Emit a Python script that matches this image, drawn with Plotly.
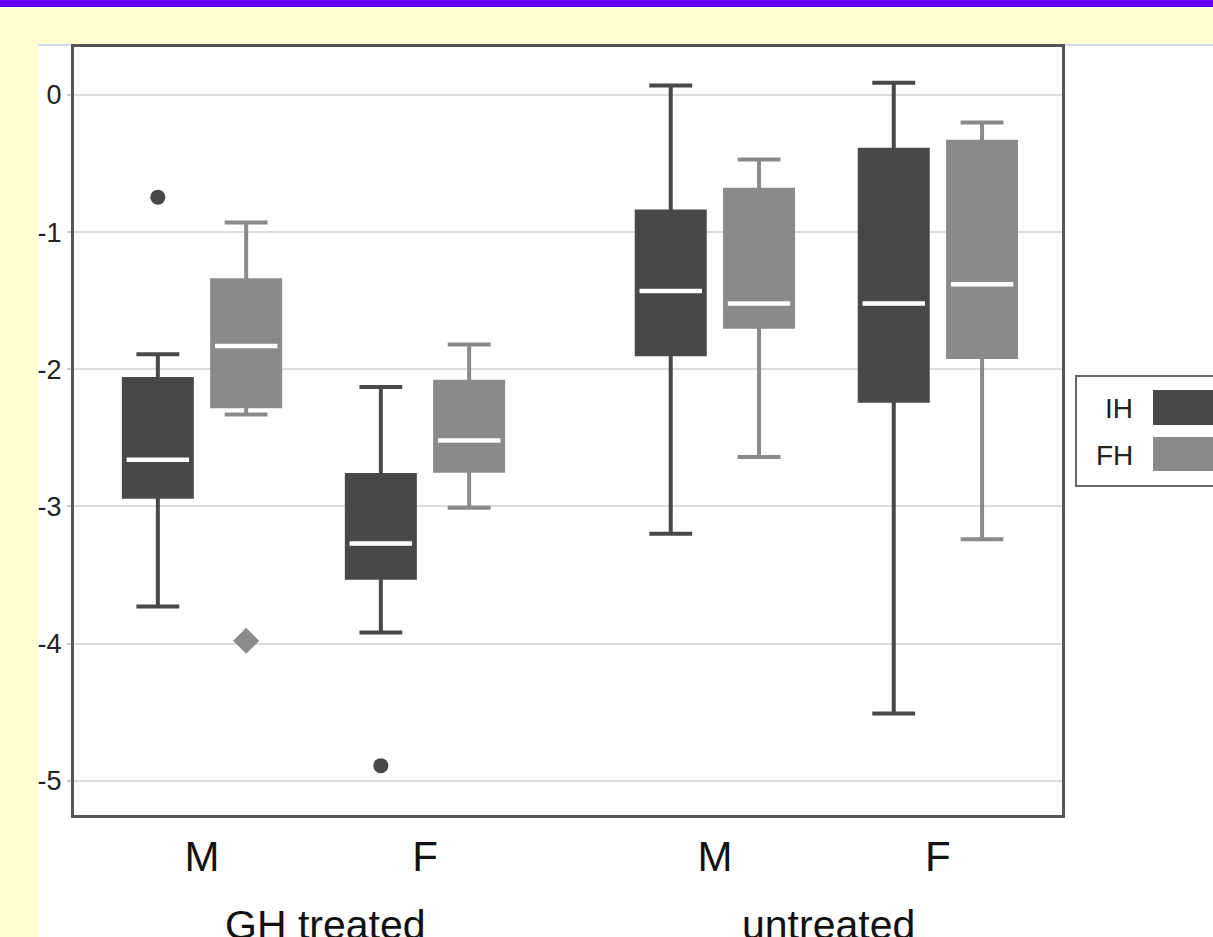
import plotly.graph_objects as go

# ---------------- data ----------------
categories = ["M", "F", "M", "F"]
groups = ["GH treated", "GH treated", "untreated", "untreated"]
series_names = ["IH", "FH"]

ih_upper = [-1.89, -2.13, 0.07, 0.09]
ih_q3 = [-2.07, -2.77, -0.85, -0.40]
ih_median = [-2.66, -3.27, -1.43, -1.52]
ih_q1 = [-2.93, -3.52, -1.89, -2.23]
ih_lower = [-3.73, -3.92, -3.20, -4.51]

fh_upper = [-0.93, -1.82, -0.47, -0.20]
fh_q3 = [-1.35, -2.09, -0.69, -0.34]
fh_median = [-1.83, -2.52, -1.52, -1.38]
fh_q1 = [-2.27, -2.74, -1.69, -1.91]
fh_lower = [-2.33, -3.01, -2.64, -3.24]

# outliers: (category index, value)
ih_outlier_cat = [0, 1]
ih_outlier_val = [-0.745, -4.89]
fh_outlier_cat = [0]
fh_outlier_val = [-3.98]

y_ticks = [0, -1, -2, -3, -4, -5]

# ---------------- styling / layout ----------------
DARK = "#484848"
GRAY = "#8a8a8a"
FONT = "Arial, Liberation Sans, sans-serif"

FIG_W, FIG_H = 1213, 937
L, R, T, B = 74, 1062, 47, 815


def px_x(px):
    return (px - L) / (R - L)


def px_y(py):
    return (B - py) / (B - T)


# category positions with extra gap between groups
group_order = []
for g in groups:
    if g not in group_order:
        group_order.append(g)
GROUP_GAP = 0.3
pos = [i + GROUP_GAP * group_order.index(g) for i, g in enumerate(groups)]
OFF = 0.198
BOXW = 0.305

ih_x = [p - OFF for p in pos]
fh_x = [p + OFF for p in pos]

fig = go.Figure()


def add_box(xs, q1, med, q3, lo, hi, color):
    fig.add_trace(go.Box(
        x=xs, q1=q1, median=med, q3=q3, lowerfence=lo, upperfence=hi,
        fillcolor=color, line=dict(color=color, width=4), width=BOXW,
        whiskerwidth=0.63, boxpoints=False, showlegend=False, hoverinfo="skip",
    ))
    # white median line overlay
    fig.add_trace(go.Box(
        x=xs, q1=med, median=med, q3=med, lowerfence=med, upperfence=med,
        fillcolor="white", line=dict(color="white", width=4.5), width=BOXW - 0.025,
        whiskerwidth=0, boxpoints=False, showlegend=False, hoverinfo="skip",
    ))


add_box(ih_x, ih_q1, ih_median, ih_q3, ih_lower, ih_upper, DARK)
add_box(fh_x, fh_q1, fh_median, fh_q3, fh_lower, fh_upper, GRAY)

fig.add_trace(go.Scatter(
    x=[ih_x[c] for c in ih_outlier_cat], y=ih_outlier_val, mode="markers",
    marker=dict(symbol="circle", size=15, color=DARK), showlegend=False,
))
fig.add_trace(go.Scatter(
    x=[fh_x[c] for c in fh_outlier_cat], y=fh_outlier_val, mode="markers",
    marker=dict(symbol="diamond", size=20, color=GRAY), showlegend=False,
))

unit = 223.0  # px per category unit
x0 = pos[0] - (202 - L) / unit
x1 = pos[0] + (R - 202) / unit

shapes = [
    # white panel
    dict(type="rect", xref="paper", yref="paper", x0=px_x(38), x1=px_x(1260),
         y0=px_y(1000), y1=px_y(45), fillcolor="white", line=dict(width=0), layer="below"),
    dict(type="line", xref="paper", yref="paper", x0=px_x(38), x1=px_x(1260),
         y0=px_y(45), y1=px_y(45), line=dict(color="#cddcf2", width=2), layer="below"),
    # purple band
    dict(type="rect", xref="paper", yref="paper", x0=px_x(-10), x1=px_x(1260),
         y0=px_y(7), y1=px_y(-10), fillcolor="#6600ff", line=dict(width=0), layer="below"),
    # legend box
    dict(type="rect", xref="paper", yref="paper", x0=px_x(1076), x1=px_x(1260),
         y0=px_y(486), y1=px_y(376), fillcolor="white", line=dict(color="#666666", width=2)),
    dict(type="rect", xref="paper", yref="paper", x0=px_x(1153), x1=px_x(1260),
         y0=px_y(425), y1=px_y(390), fillcolor=DARK, line=dict(width=0)),
    dict(type="rect", xref="paper", yref="paper", x0=px_x(1153), x1=px_x(1260),
         y0=px_y(471), y1=px_y(437), fillcolor=GRAY, line=dict(width=0)),
]

annotations = [
    dict(text=series_names[0], xref="paper", yref="paper", x=px_x(1135), y=px_y(408),
         xanchor="right", yanchor="middle", showarrow=False,
         font=dict(family=FONT, size=28, color="#222222")),
    dict(text=series_names[1], xref="paper", yref="paper", x=px_x(1135), y=px_y(455),
         xanchor="right", yanchor="middle", showarrow=False,
         font=dict(family=FONT, size=28, color="#222222")),
]
group_shift = [12, 2]
for gi, g in enumerate(group_order):
    ps = [p for p, gg in zip(pos, groups) if gg == g]
    annotations.append(dict(
        text=g, xref="x", yref="paper", x=sum(ps) / len(ps), y=px_y(925),
        xanchor="center", yanchor="middle", showarrow=False, xshift=group_shift[gi],
        font=dict(family=FONT, size=41, color="#111111")))

fig.update_layout(
    width=FIG_W, height=FIG_H,
    margin=dict(l=L, r=FIG_W - R, t=T, b=FIG_H - B, pad=0),
    paper_bgcolor="#ffffd0", plot_bgcolor="white",
    boxmode="overlay",
    showlegend=False,
    shapes=shapes, annotations=annotations,
    font=dict(family=FONT, color="#111111"),
)
fig.update_xaxes(
    range=[x0, x1], tickmode="array", tickvals=pos, ticktext=categories,
    tickfont=dict(family=FONT, size=42, color="#111111"),
    showgrid=False, zeroline=False, ticks="", ticklabelstandoff=3,
    showline=True, linecolor="#555555", linewidth=3, mirror=True,
)
fig.update_yaxes(
    range=[-5.25, 0.35], tickmode="array", tickvals=y_ticks,
    ticktext=[str(v) for v in y_ticks],
    tickfont=dict(family=FONT, size=27, color="#222222"),
    showgrid=True, gridcolor="#dcdcdc", gridwidth=2, zeroline=False,
    ticks="outside", ticklen=4, tickcolor="#cccccc", tickwidth=2,
    showline=True, linecolor="#555555", linewidth=3, mirror=True,
)

fig.write_html(
    "out.html",
    config={"displayModeBar": False},
    post_script="document.body.style.margin='0';document.body.style.background='#ffffd0';",
)
